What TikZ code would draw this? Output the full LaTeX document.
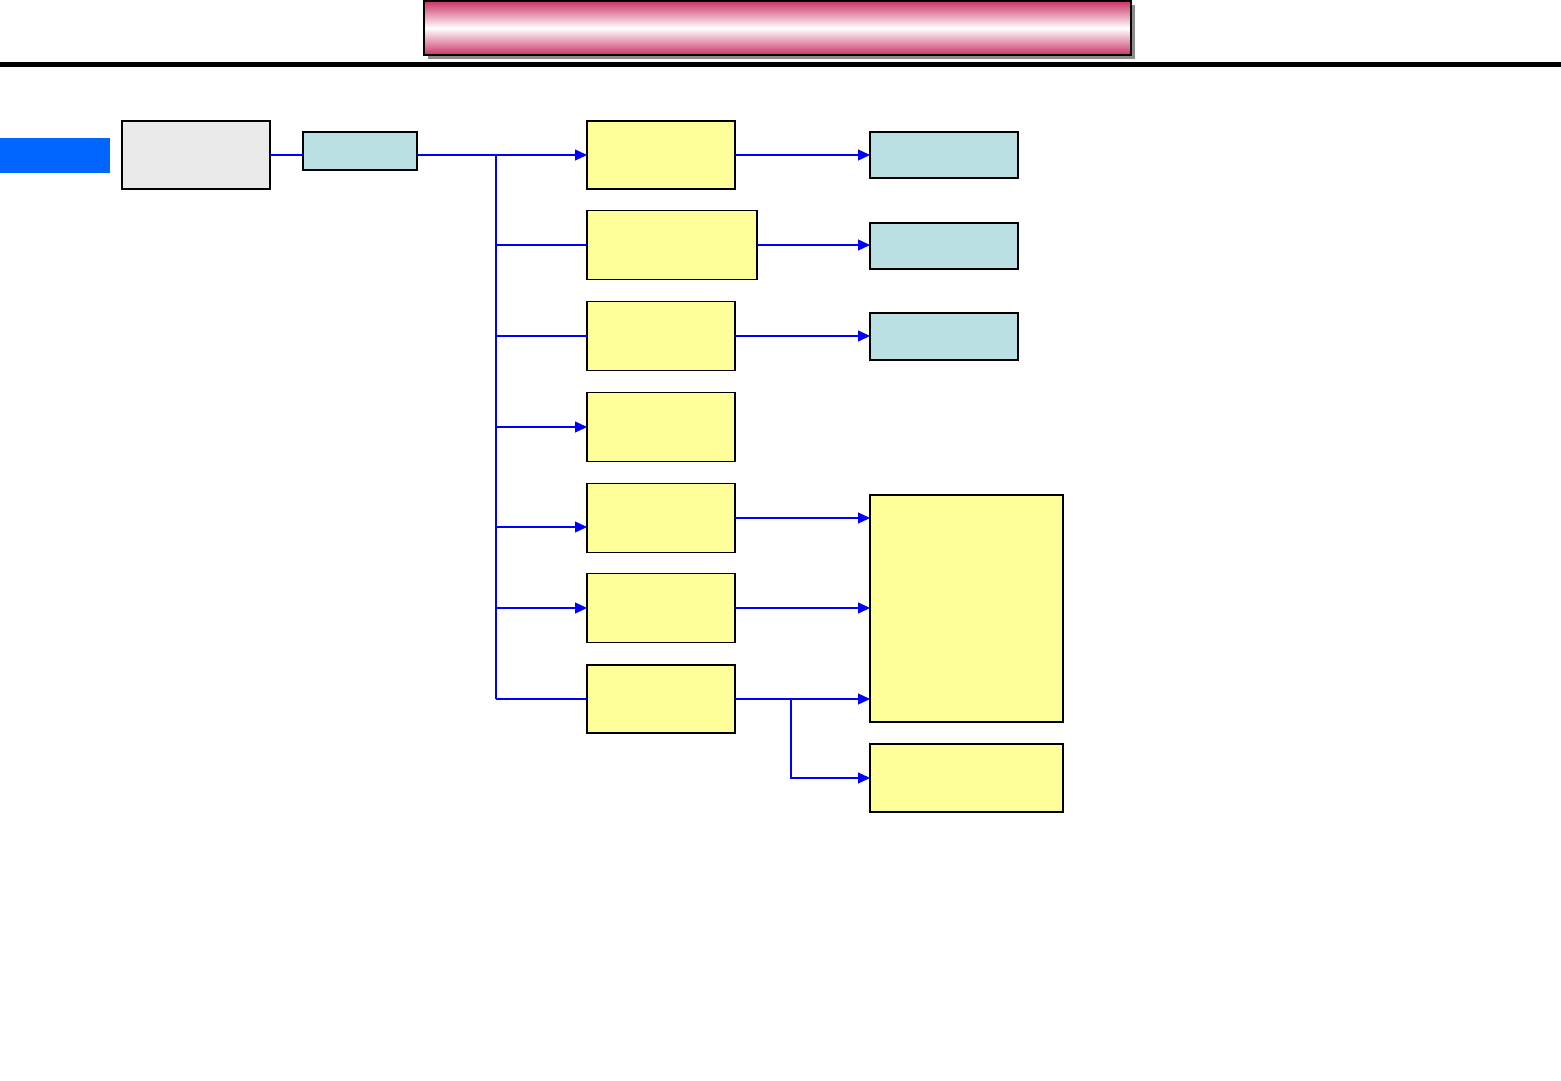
\documentclass[tikz,border=0pt]{standalone}
\usetikzlibrary{arrows.meta,shadows}
\definecolor{pinkbar}{RGB}{204,51,102}
\definecolor{tealbox}{RGB}{187,224,227}
\definecolor{yelbox}{RGB}{255,255,153}
\definecolor{graybox}{RGB}{234,234,234}
\definecolor{bluetab}{RGB}{0,102,255}
\definecolor{linkblue}{RGB}{0,0,255}
\tikzset{
  boxbase/.style={draw=black, line width=1.3pt, inner sep=0pt, outer sep=0pt},
  ybox/.style={boxbase, fill=yelbox},
  tbox/.style={boxbase, fill=tealbox},
  gbox/.style={boxbase, fill=graybox},
  conn/.style={draw=linkblue, line width=1.2pt},
  arr/.style={conn, -{Triangle[length=12pt,width=11pt]}},
}
\begin{document}
\begin{tikzpicture}[x=1pt,y=-1pt]
\useasboundingbox (0,0) rectangle (1561,1081);
% title bar
\node[draw=black, line width=1.3pt, minimum width=707pt, minimum height=54pt,
  inner sep=0pt, top color=pinkbar, bottom color=pinkbar, middle color=white,
  drop shadow={shadow xshift=4pt, shadow yshift=-4pt, fill=gray!90, opacity=1}]
  (title) at (777.5,28) {};
% rule
\draw[line width=5pt] (0,64.5) -- (1561,64.5);
% left tab
\node[fill=bluetab, minimum width=110pt, minimum height=35pt, inner sep=0pt] (tab) at (55,155.5) {};
% first boxes
\node[gbox, minimum width=148pt, minimum height=68pt] (g0) at (196,155) {};
\node[tbox, minimum width=114pt, minimum height=38pt] (t0) at (360,151) {};
% yellow column
\node[ybox, minimum width=148pt, minimum height=68pt] (y1) at (661,155) {};
\node[ybox, minimum width=170pt, minimum height=69pt] (y2) at (672,245) {};
\node[ybox, minimum width=148pt, minimum height=69pt] (y3) at (661,336) {};
\node[ybox, minimum width=148pt, minimum height=69pt] (y4) at (661,427) {};
\node[ybox, minimum width=148pt, minimum height=69pt] (y5) at (661,518) {};
\node[ybox, minimum width=148pt, minimum height=69pt] (y6) at (661,608) {};
\node[ybox, minimum width=148pt, minimum height=68pt] (y7) at (661,699) {};
% right column
\node[tbox, minimum width=148pt, minimum height=46pt] (r1) at (944,155) {};
\node[tbox, minimum width=148pt, minimum height=46pt] (r2) at (944,246) {};
\node[tbox, minimum width=148pt, minimum height=47pt] (r3) at (944,336.5) {};
\node[ybox, minimum width=193pt, minimum height=227pt] (big) at (966.5,608.5) {};
\node[ybox, minimum width=193pt, minimum height=68pt] (low) at (966.5,778) {};
% connectors
\draw[conn] (g0.east) -- (g0.east -| t0.west);
\draw[arr] (t0.east |- y1.west) -- (y1.west);
\coordinate (bt) at (496,155);
\coordinate (bb) at (496,699);
\draw[conn] (bt) -- (bb);
\coordinate (b2) at (496,245);
\coordinate (b3) at (496,336);
\coordinate (b4) at (496,427);
\coordinate (b5) at (496,527);
\coordinate (b6) at (496,608);
\draw[conn] (b2) -- (b2 -| y2.west);
\draw[conn] (b3) -- (b3 -| y3.west);
\draw[arr] (b4) -- (b4 -| y4.west);
\draw[arr] (b5) -- (b5 -| y5.west);
\draw[arr] (b6) -- (b6 -| y6.west);
\draw[conn] (bb) -- (bb -| y7.west);
\draw[arr] (y1.east) -- (y1.east -| r1.west);
\draw[arr] (y2.east) -- (y2.east -| r2.west);
\draw[arr] (y3.east) -- (y3.east -| r3.west);
\draw[arr] (y5.east) -- (y5.east -| big.west);
\draw[arr] (y6.east) -- (y6.east -| big.west);
\draw[arr] (y7.east) -- (y7.east -| big.west);
\coordinate (j7) at (791,699);
\draw[arr] (j7) |- (low.west);
\end{tikzpicture}
\end{document}
